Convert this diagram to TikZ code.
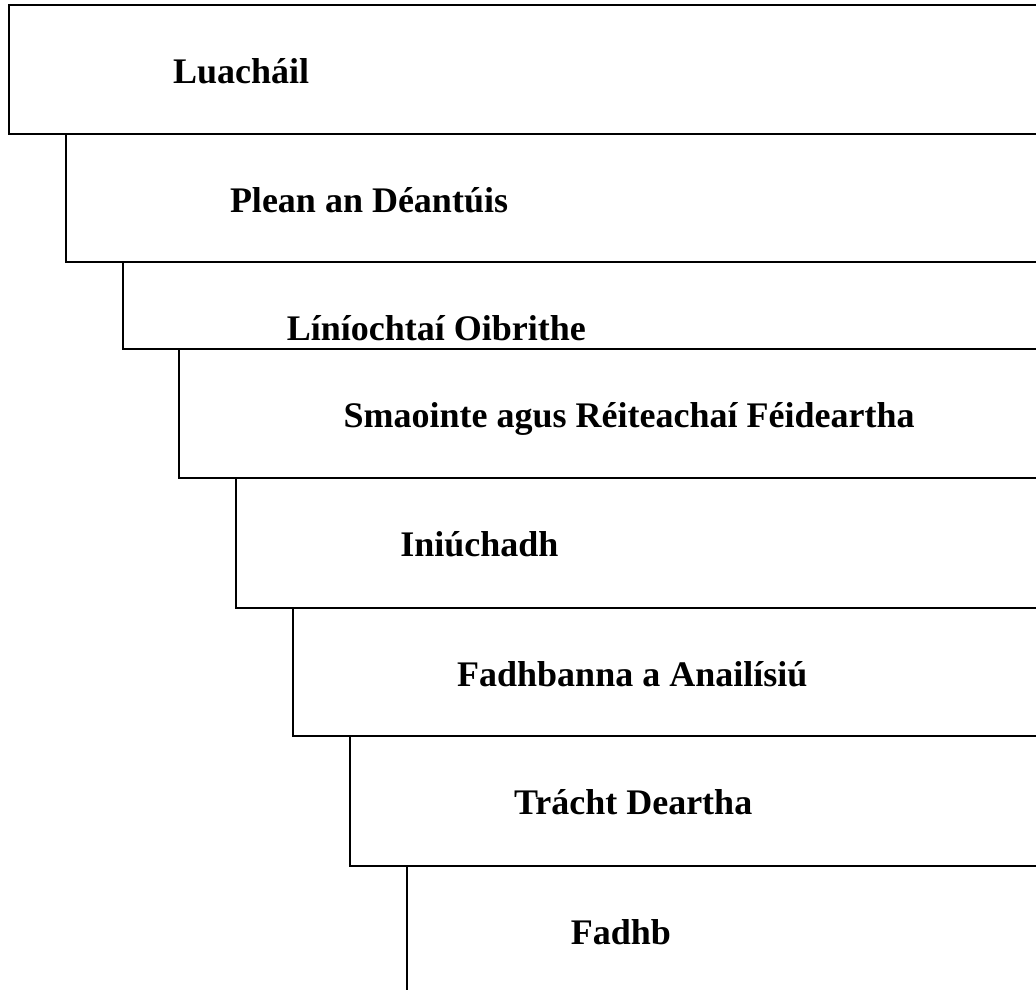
\documentclass[tikz,border=0pt]{standalone}
\usepackage{fontspec}
\setmainfont{Liberation Serif}
\usetikzlibrary{calc}

\begin{document}
\begin{tikzpicture}[x=1pt, y=1pt]
        \tikzset{stagebox/.style={draw, line width=2pt, anchor=north west,
            inner sep=0pt, outer sep=0pt, minimum width=1200pt},
          stagetext/.style={anchor=base west, inner sep=0pt,
            font=\bfseries\fontsize{36}{40}\selectfont}}

        \useasboundingbox (0,0) rectangle (1036,-989);
        \clip (0,0) rectangle (1036,-989);

        \foreach \i/\ytop/\ybot/\txt in {1/5/134/Luacháil,
            2/134/262/Plean an Déantúis,
            3/262/349/Líníochtaí Oibrithe,
            4/349/478/Smaointe agus Réiteachaí Féideartha,
            5/478/608/Iniúchadh,
            6/608/736/Fadhbanna a Anailísiú,
            7/736/866/Trácht Deartha,
            8/866/1000/Fadhb}
        {
          \node[stagebox, minimum height={\ybot-\ytop}] (box\i) at ({9+56.8*(\i-1)},-\ytop) {};
          \node[stagetext] (lbl\i) at ($(box\i.north west)+(164,-78)$) {\txt};
        }
      \end{tikzpicture}
\end{document}
